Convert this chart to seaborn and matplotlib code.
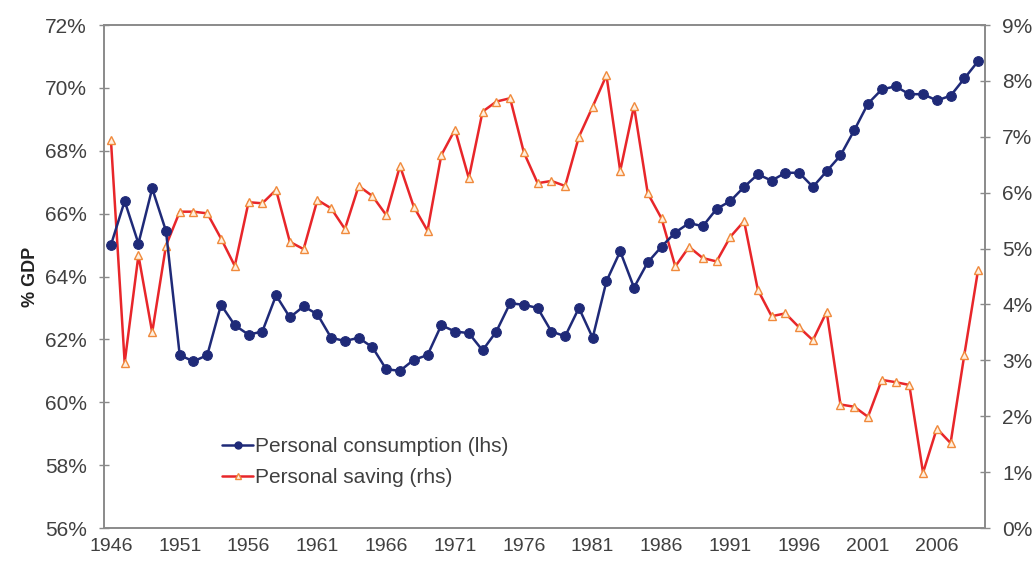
import seaborn as sns
import matplotlib.pyplot as plt
from matplotlib.ticker import FuncFormatter, MultipleLocator
from matplotlib.lines import Line2D

years = list(range(1946, 2010))

# personal consumption, % of GDP (left axis)
consumption = [
    65.0, 66.4, 65.05, 66.8, 65.45, 61.5, 61.3, 61.5, 63.1, 62.45,
    62.15, 62.25, 63.4, 62.7, 63.05, 62.8, 62.05, 61.95, 62.05, 61.75,
    61.05, 61.0, 61.35, 61.5, 62.45, 62.25, 62.2, 61.65, 62.25, 63.15,
    63.1, 63.0, 62.25, 62.1, 63.0, 62.05, 63.85, 64.8, 63.65, 64.45,
    64.95, 65.4, 65.7, 65.6, 66.15, 66.4, 66.85, 67.25, 67.05, 67.3,
    67.3, 66.85, 67.35, 67.85, 68.65, 69.5, 69.95, 70.05, 69.8, 69.8,
    69.6, 69.75, 70.3, 70.85,
]

# personal saving, % of GDP (right axis)
saving = [
    6.95, 2.96, 4.88, 3.5, 5.05, 5.66, 5.66, 5.63, 5.18, 4.69,
    5.83, 5.81, 6.05, 5.12, 4.99, 5.87, 5.72, 5.35, 6.12, 5.94,
    5.6, 6.48, 5.75, 5.32, 6.67, 7.13, 6.26, 7.45, 7.63, 7.69,
    6.72, 6.17, 6.21, 6.12, 7.0, 7.54, 8.1, 6.39, 7.55, 5.99,
    5.54, 4.68, 5.03, 4.83, 4.77, 5.21, 5.49, 4.26, 3.79, 3.84,
    3.59, 3.36, 3.87, 2.21, 2.17, 1.99, 2.65, 2.61, 2.56, 0.99,
    1.78, 1.52, 3.1, 4.62,
]

sns.set_style("white")
plt.rcParams["font.family"] = ["Liberation Sans", "DejaVu Sans"]

blue = "#1f2a78"
red = "#e8262a"
tri_edge = "#f08a3c"
grey = "#8a8a8a"
text_col = "#404040"

fig = plt.figure(figsize=(10.34, 5.61), dpi=100)
ax = fig.add_axes([0.1006, 0.0588, 0.8520, 0.8966])
ax2 = ax.twinx()

sns.lineplot(x=years, y=consumption, ax=ax, color=blue, marker="o",
             markersize=7, markeredgecolor=blue, linewidth=1.8)
sns.lineplot(x=years, y=saving, ax=ax2, color=red, marker="^",
             markersize=5.5, markerfacecolor="#fff0e0",
             markeredgecolor=tri_edge, markeredgewidth=1, linewidth=1.8)

# blue series sits above the red one
ax.set_zorder(ax2.get_zorder() + 1)
ax.patch.set_visible(False)

ax.set_xlim(1945.5, 2009.5)
ax.set_ylim(56, 72)
ax2.set_ylim(0, 9)

ax.xaxis.set_major_locator(MultipleLocator(5, offset=1))
ax.xaxis.set_minor_locator(MultipleLocator(1))
ax.yaxis.set_major_locator(MultipleLocator(2))
ax2.yaxis.set_major_locator(MultipleLocator(1))

pct = FuncFormatter(lambda v, p: f"{v:.0f}%")
ax.yaxis.set_major_formatter(pct)
ax2.yaxis.set_major_formatter(pct)

for a in (ax, ax2):
    for s in a.spines.values():
        s.set_color(grey)
        s.set_linewidth(1.2)
    a.tick_params(which="both", direction="inout", length=7, width=1,
                  color=grey, labelsize=15, labelcolor=text_col)
    a.set_xlabel("")
ax.tick_params(axis="x", which="both", length=6, pad=4, labelsize=14)
ax.tick_params(axis="y", pad=9)
ax2.tick_params(axis="y", pad=9)

ax.set_ylabel("% GDP", fontsize=13, fontweight="bold", color="#222222",
              labelpad=4)
ax2.set_ylabel("")

handles = [
    Line2D([], [], color=blue, marker="o", markersize=5, linewidth=1.8),
    Line2D([], [], color=red, marker="^", markersize=5,
           markerfacecolor="#fff0e0", markeredgecolor=tri_edge, linewidth=1.8),
]
labels = ["Personal consumption (lhs)", "Personal saving (rhs)"]
leg = ax.legend(handles, labels, loc="center left",
                bbox_to_anchor=(0.134, 0.131), frameon=False, fontsize=15,
                handlelength=1.5, handletextpad=0.1, borderpad=0,
                borderaxespad=0, labelspacing=0.6)
for t in leg.get_texts():
    t.set_color(text_col)

fig.savefig("out.png", dpi=100)
